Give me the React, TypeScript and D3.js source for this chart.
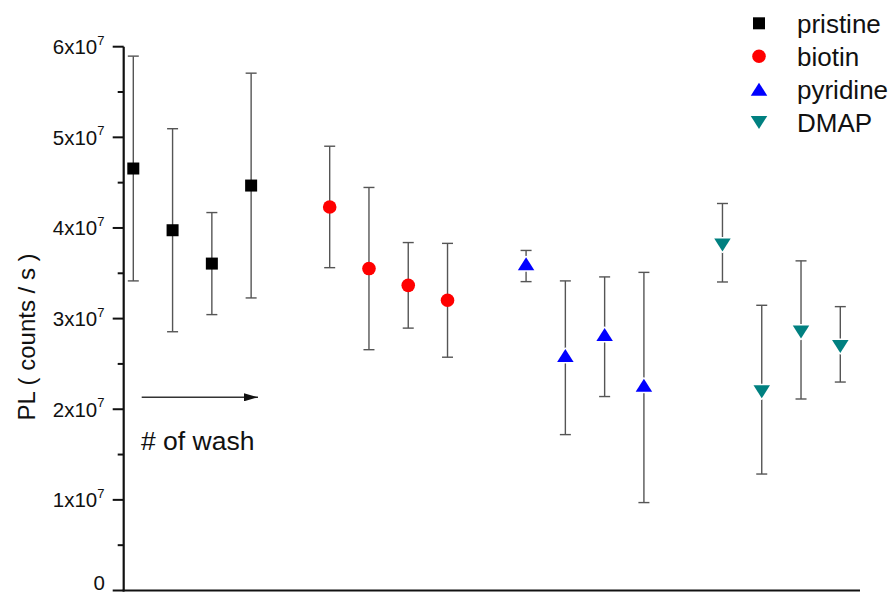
import React from "react";
import * as d3 from "d3";

// PL intensity per wash step for each surface treatment
const groups = ["pristine", "biotin", "pyridine", "DMAP"];
const positions = [
  [1, 2, 3, 4],
  [6, 7, 8, 9],
  [11, 12, 13, 14],
  [16, 17, 18, 19],
];
const pristineMean = [4.656e7, 3.975e7, 3.607e7, 4.468e7];
const pristineErr = [1.24e7, 1.12e7, 0.563e7, 1.24e7];
const biotinMean = [4.232e7, 3.552e7, 3.367e7, 3.202e7];
const biotinErr = [0.67e7, 0.895e7, 0.472e7, 0.628e7];
const pyridineMean = [3.58e7, 2.568e7, 2.8e7, 2.24e7];
const pyridineErr = [0.172e7, 0.848e7, 0.66e7, 1.27e7];
const dmapMean = [3.837e7, 2.216e7, 2.875e7, 2.716e7];
const dmapErr = [0.433e7, 0.931e7, 0.762e7, 0.416e7];

const yMajorTicks = [0, 1e7, 2e7, 3e7, 4e7, 5e7, 6e7];
const yTickMantissa = ["0", "1", "2", "3", "4", "5", "6"];

const W = 895;
const H = 595;
const FONT = "'Liberation Sans', Arial, sans-serif";

const x = d3.scaleLinear().domain([1, 19]).range([133.3, 840.3]);
const y = d3.scaleLinear().domain([0, 6e7]).range([590.5, 46.7]);

const colors = ["#000000", "#ff0000", "#0000ff", "#008080"];
const shapes = ["square", "circle", "up", "down"];

function Marker({ shape, cx, cy, color }: { shape: string; cx: number; cy: number; color: string }) {
  if (shape === "square") {
    return <rect x={cx - 6} y={cy - 6} width={12} height={12} fill={color} />;
  }
  if (shape === "circle") {
    return <circle cx={cx} cy={cy} r={6.8} fill={color} />;
  }
  const w = 16.5;
  const h = 13;
  const pts =
    shape === "up"
      ? [[cx, cy - (2 * h) / 3], [cx + w / 2, cy + h / 3], [cx - w / 2, cy + h / 3]]
      : [[cx, cy + (2 * h) / 3], [cx + w / 2, cy - h / 3], [cx - w / 2, cy - h / 3]];
  const d = d3.line()(pts as [number, number][]) + "Z";
  return (
    <path
      d={d}
      fill={color}
      stroke="#ffffff"
      strokeWidth={3}
      strokeLinejoin="round"
      style={{ paintOrder: "stroke" }}
    />
  );
}

export default function App() {
  const means = [pristineMean, biotinMean, pyridineMean, dmapMean];
  const errs = [pristineErr, biotinErr, pyridineErr, dmapErr];
  const axisX = 123.7;
  const minorTicks = d3.range(0.5e7, 6e7, 1e7);

  return (
    <svg
      width={W}
      height={H}
      style={{ position: "absolute", left: 0, top: 0, background: "#fff" }}
      fontFamily={FONT}
    >
      {/* axes */}
      <line x1={axisX} x2={axisX} y1={y(6e7)} y2={y(0) + 1} stroke="#111" strokeWidth={2.2} />
      <line x1={axisX - 1} x2={860} y1={y(0)} y2={y(0)} stroke="#111" strokeWidth={2.2} />
      {yMajorTicks.map((t) => (
        <line key={"M" + t} x1={axisX - 11} x2={axisX} y1={y(t)} y2={y(t)} stroke="#111" strokeWidth={2} />
      ))}
      {minorTicks.map((t) => (
        <line key={"m" + t} x1={axisX - 6} x2={axisX} y1={y(t)} y2={y(t)} stroke="#111" strokeWidth={2} />
      ))}
      {yMajorTicks.map((t, i) =>
        t === 0 ? (
          <text key={"l" + t} x={105} y={590} fontSize={20.5} textAnchor="end" fill="#111">
            0
          </text>
        ) : (
          <text key={"l" + t} x={104.5} y={y(t) + 7.5} fontSize={20.5} textAnchor="end" fill="#111">
            {yTickMantissa[i]}x10
            <tspan fontSize={13} dy={-9.5}>
              7
            </tspan>
          </text>
        )
      )}
      <text
        transform={`translate(35,${337}) rotate(-90)`}
        fontSize={24}
        textAnchor="middle"
        fill="#111"
      >
        PL ( counts / s )
      </text>

      {/* wash direction arrow */}
      <defs>
        <marker id="arrowHead" viewBox="0 0 14 8" refX={14} refY={4} markerWidth={14} markerHeight={8} markerUnits="userSpaceOnUse" orient="auto">
          <path d="M0,0 L14,4 L0,8 Z" fill="#111" />
        </marker>
      </defs>
      <line x1={141.7} x2={258} y1={397.3} y2={397.3} stroke="#333" strokeWidth={1.5} markerEnd="url(#arrowHead)" />
      <text x={141} y={450} fontSize={26.5} fill="#111">
        # of wash
      </text>

      {/* error bars */}
      {means.map((ms, g) =>
        ms.map((m, i) => {
          const cx = x(positions[g][i]);
          const e = errs[g][i];
          return (
            <g key={`e${g}-${i}`} stroke="#555" strokeWidth={1.4}>
              <line x1={cx} x2={cx} y1={y(m + e)} y2={y(m - e)} />
              <line x1={cx - 5.5} x2={cx + 5.5} y1={y(m + e)} y2={y(m + e)} />
              <line x1={cx - 5.5} x2={cx + 5.5} y1={y(m - e)} y2={y(m - e)} />
            </g>
          );
        })
      )}

      {/* markers */}
      {means.map((ms, g) =>
        ms.map((m, i) => (
          <Marker key={`p${g}-${i}`} shape={shapes[g]} cx={x(positions[g][i])} cy={y(m)} color={colors[g]} />
        ))
      )}

      {/* legend */}
      {groups.map((name, i) => {
        const cy = 23.3 + i * 33;
        return (
          <g key={name}>
            <Marker shape={shapes[i]} cx={759} cy={cy + (shapes[i] === "up" ? 2 : shapes[i] === "down" ? -2 : 0)} color={colors[i]} />
            <text x={797} y={cy + 9.2} fontSize={26} fill="#111">
              {name}
            </text>
          </g>
        );
      })}
    </svg>
  );
}
